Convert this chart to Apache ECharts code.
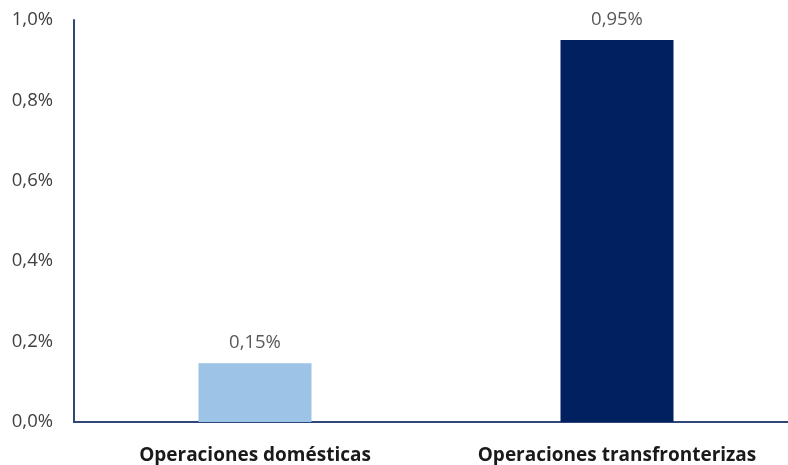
<!DOCTYPE html>
<html>
<head>
<meta charset="utf-8">
<script src="https://cdn.jsdelivr.net/npm/echarts@6/dist/echarts.min.js"></script>
<style>html,body{margin:0;padding:0;background:#fff}#c{width:788px;height:465px}</style>
</head>
<body>
<div id="c"></div>
<script>
const categories = ['Operaciones domésticas', 'Operaciones transfronterizas'];
const values = [0.146, 0.95];
const yTicks = [0, 0.2, 0.4, 0.6, 0.8, 1.0];

const barColors = ['#9DC3E6', '#002060'];
const chart = echarts.init(document.getElementById('c'));
chart.setOption({
  animation: false,
  backgroundColor: '#ffffff',
  grid: { left: 74, width: 724, top: 20, bottom: 43, outerBoundsMode: 'none', containLabel: false },
  xAxis: {
    type: 'category',
    data: categories,
    axisLine: { lineStyle: { color: '#2F4679', width: 2 } },
    axisTick: { show: false },
    axisLabel: {
      interval: 0, showMinLabel: true, showMaxLabel: true, hideOverlap: false,
      fontFamily: 'Open Sans', fontWeight: 'bold', fontSize: 19, color: '#1a1a1a', margin: 24
    }
  },
  yAxis: {
    type: 'value',
    min: yTicks[0],
    max: yTicks[yTicks.length - 1],
    interval: yTicks[1] - yTicks[0],
    splitLine: { show: false },
    axisTick: { show: false },
    axisLine: { show: true, lineStyle: { color: '#2F4679', width: 2 } },
    axisLabel: {
      fontFamily: 'Open Sans', fontSize: 18.5, color: '#404040', margin: 21,
      formatter: v => v.toFixed(1).replace('.', ',') + '%'
    }
  },
  series: [{
    type: 'bar',
    barWidth: 113,
    data: values.map((v, i) => ({ value: v, itemStyle: { color: barColors[i] } })),
    label: {
      show: true, position: 'top', distance: 11,
      fontFamily: 'Open Sans', fontSize: 18.5, color: '#595959',
      formatter: p => p.value.toFixed(2).replace('.', ',') + '%'
    }
  }]
});
</script>
</body>
</html>
